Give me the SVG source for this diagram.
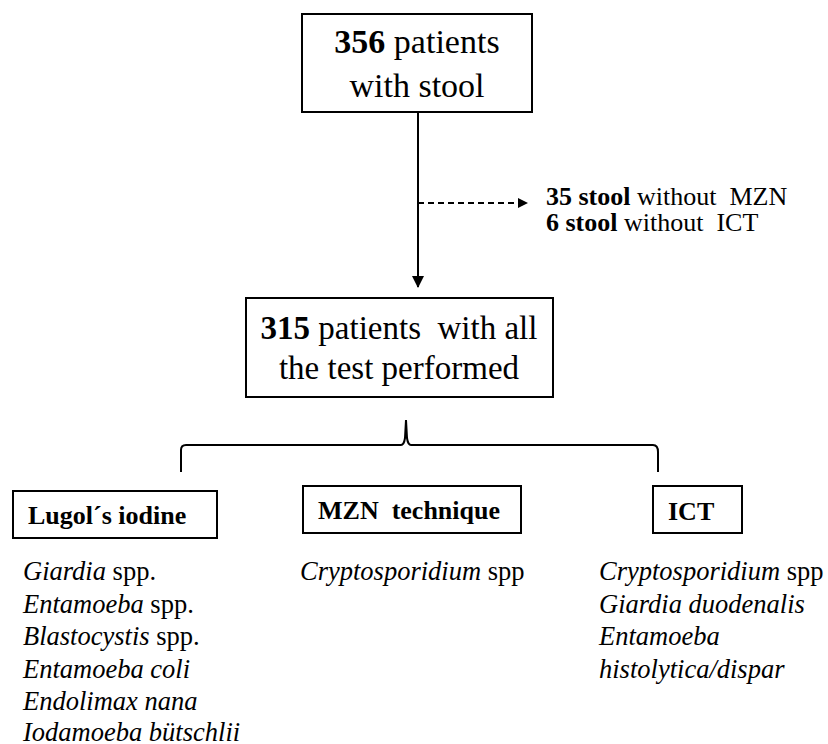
<svg xmlns="http://www.w3.org/2000/svg" width="828" height="744" viewBox="0 0 828 744">
<style>
.box{fill:#fff;stroke:#000;stroke-width:2}
.b{font-weight:bold}
.i{font-style:italic}
.ln{fill:none;stroke:#000;stroke-width:2}
</style>
<defs>
<marker id="ah" markerWidth="10" markerHeight="10" refX="9" refY="5" orient="auto" markerUnits="userSpaceOnUse">
<path d="M0,0 L10,5 L0,10 Z" fill="#000"/>
</marker>
<marker id="ah2" markerWidth="12" markerHeight="12" refX="11" refY="6" orient="auto" markerUnits="userSpaceOnUse">
<path d="M0,0 L12,6 L0,12 Z" fill="#000"/>
</marker>
</defs>
<rect width="828" height="744" fill="#fff"/>
<g id="connectors">
<line class="ln" x1="418" y1="112" x2="418" y2="287" marker-end="url(#ah2)"/>
<line class="ln" x1="418" y1="203" x2="527" y2="203" stroke-dasharray="6,4" marker-end="url(#ah)"/>
<path class="ln" d="M181,472 L181,450 Q181,445 186,445 L401,445 Q404,445 405,438 L406,420 L407,438 Q408,445 411,445 L653,445 Q658,445 658,452 L658,472"/>
</g>
<g font-family="Liberation Serif, Times New Roman, serif" fill="#000">
<g id="n356">
<rect class="box" x="302" y="14" width="230" height="98"/>
<text x="417" y="53" font-size="34" text-anchor="middle"><tspan class="b">356</tspan> patients</text>
<text x="417" y="97" font-size="34" text-anchor="middle">with stool</text>
</g>
<g id="excluded">
<text x="546" y="205" font-size="26" xml:space="preserve"><tspan class="b">35 stool</tspan> without  MZN</text>
<text x="546" y="231" font-size="26" xml:space="preserve"><tspan class="b">6 stool</tspan> without  ICT</text>
</g>
<g id="n315">
<rect class="box" x="246" y="298" width="307" height="99"/>
<text x="399" y="339" font-size="33" text-anchor="middle" xml:space="preserve"><tspan class="b">315</tspan> patients  with all</text>
<text x="399" y="379" font-size="33" text-anchor="middle">the test performed</text>
</g>
<g id="lugol">
<rect class="box" x="13" y="491" width="204" height="47"/>
<text class="b" x="28" y="524" font-size="26">Lugol´s iodine</text>
<text font-size="26.5">
<tspan x="23" y="580"><tspan class="i">Giardia</tspan> spp.</tspan>
<tspan x="23" y="612.5"><tspan class="i">Entamoeba</tspan> spp.</tspan>
<tspan x="23" y="645"><tspan class="i">Blastocystis</tspan> spp.</tspan>
<tspan x="23" y="677.5" class="i">Entamoeba coli</tspan>
<tspan x="23" y="710" class="i">Endolimax nana</tspan>
<tspan x="23" y="741" class="i">Iodamoeba bütschlii</tspan>
</text>
</g>
<g id="mzn">
<rect class="box" x="303" y="486" width="218" height="47"/>
<text class="b" x="318" y="519" font-size="26" xml:space="preserve">MZN  technique</text>
<text x="300" y="580" font-size="26.5"><tspan class="i">Cryptosporidium</tspan> spp</text>
</g>
<g id="ict">
<rect class="box" x="653" y="486" width="89" height="47"/>
<text class="b" x="668" y="520" font-size="26">ICT</text>
<text font-size="26.5">
<tspan x="599" y="580"><tspan class="i">Cryptosporidium</tspan> spp</tspan>
<tspan x="599" y="612.5" class="i">Giardia duodenalis</tspan>
<tspan x="599" y="645" class="i">Entamoeba</tspan>
<tspan x="599" y="677.5" class="i">histolytica/dispar</tspan>
</text>
</g>
</g>
</svg>
